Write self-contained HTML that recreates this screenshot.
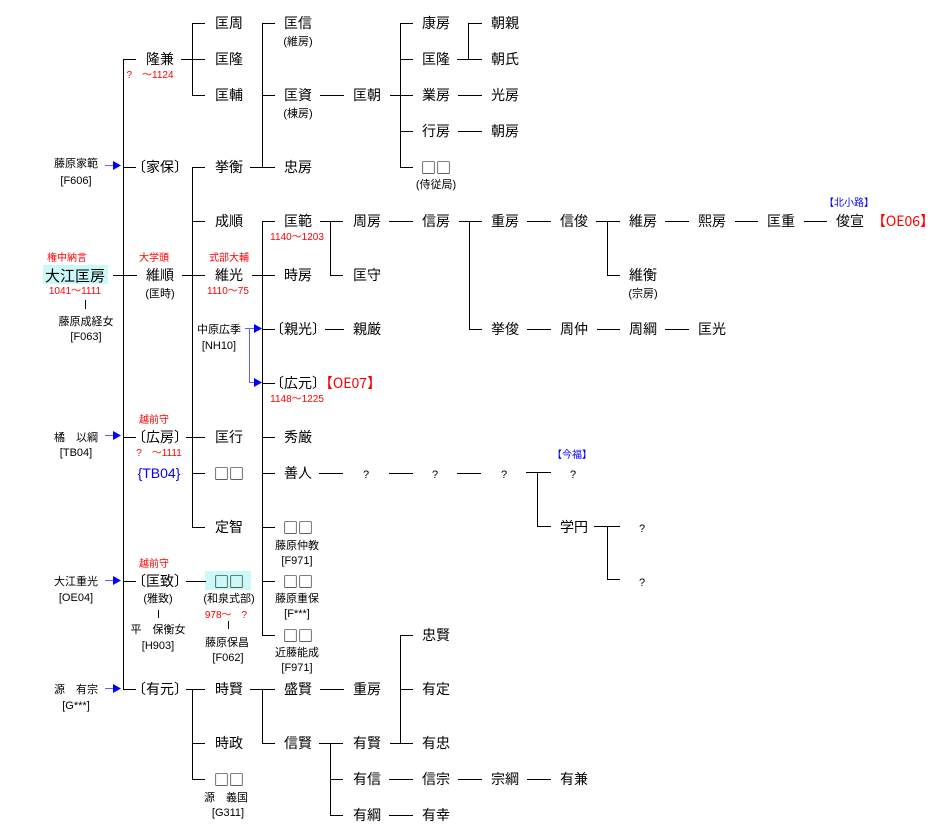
<!DOCTYPE html>
<html><head><meta charset="utf-8"><style>
html,body{margin:0;padding:0;background:#fff;}
svg{display:block;}
text{font-family:"Liberation Sans","Noto Sans CJK JP",sans-serif;text-anchor:middle;fill:#000;}
.n{font-size:14px;}
.s{font-size:11px;}
.r{fill:#ff0000;font-size:10px;}
.b{fill:#0000ff;}
.q{font-family:"Noto Sans CJK JP",sans-serif;font-size:15px;}
line,path{stroke:#000;stroke-width:1;fill:none;shape-rendering:crispEdges;}
.bl{stroke:#6060ff;}
</style></head><body>
<svg width="945" height="840" viewBox="0 0 945 840" xmlns="http://www.w3.org/2000/svg">
<rect x="43" y="265" width="65" height="19" fill="#ccf8f8"/>
<rect x="205" y="571" width="46" height="19" fill="#ccf8f8"/>

<g>
<line x1="123.5" y1="59.5" x2="123.5" y2="689.5"/>
<line x1="123" y1="59.5" x2="136" y2="59.5"/>
<line x1="123" y1="167.5" x2="136" y2="167.5"/>
<line x1="113" y1="275.5" x2="137" y2="275.5"/>
<line x1="123" y1="437.5" x2="136" y2="437.5"/>
<line x1="123" y1="581.5" x2="136" y2="581.5"/>
<line x1="123" y1="689.5" x2="136" y2="689.5"/>
<line x1="181" y1="59.5" x2="205" y2="59.5"/>
<path d="M205 23.5H192.5V95.5H205"/>
<path d="M205 167.5H192.5V527.5H205"/>
<line x1="192" y1="221.5" x2="205" y2="221.5"/>
<line x1="182" y1="275.5" x2="205" y2="275.5"/>
<line x1="186" y1="437.5" x2="205" y2="437.5"/>
<line x1="192" y1="473.5" x2="205" y2="473.5"/>
<line x1="186" y1="581.5" x2="206" y2="581.5"/>
<line x1="186" y1="689.5" x2="205" y2="689.5"/>
<path d="M192.5 689.5V779.5H205"/>
<line x1="192" y1="743.5" x2="205" y2="743.5"/>
<line x1="250" y1="167.5" x2="275" y2="167.5"/>
<path d="M275 23.5H262.5V167.5"/>
<line x1="262" y1="95.5" x2="275" y2="95.5"/>
<path d="M275 221.5H262.5V635.5H275"/>
<line x1="252" y1="275.5" x2="275" y2="275.5"/>
<line x1="262" y1="329.5" x2="275" y2="329.5"/>
<line x1="262" y1="383.5" x2="275" y2="383.5"/>
<line x1="262" y1="437.5" x2="275" y2="437.5"/>
<line x1="262" y1="473.5" x2="275" y2="473.5"/>
<line x1="262" y1="527.5" x2="275" y2="527.5"/>
<line x1="262" y1="581.5" x2="275" y2="581.5"/>
<line x1="250" y1="689.5" x2="275" y2="689.5"/>
<path d="M262.5 689.5V743.5H275"/>
<line x1="320" y1="95.5" x2="344" y2="95.5"/>
<path d="M320 221.5H343M330.5 221.5V275.5H343"/>
<line x1="325" y1="329.5" x2="344" y2="329.5"/>
<line x1="319" y1="473.5" x2="343" y2="473.5"/>
<line x1="320" y1="689.5" x2="344" y2="689.5"/>
<path d="M319 743.5H343M330.5 743.5V815.5H343"/>
<line x1="330" y1="779.5" x2="343" y2="779.5"/>
<path d="M413 23.5H400.5V167.5H413"/>
<line x1="390" y1="95.5" x2="413" y2="95.5"/>
<line x1="400" y1="59.5" x2="413" y2="59.5"/>
<line x1="400" y1="131.5" x2="413" y2="131.5"/>
<line x1="389" y1="221.5" x2="413" y2="221.5"/>
<line x1="389" y1="473.5" x2="413" y2="473.5"/>
<path d="M413 635.5H400.5V743.5H413"/>
<line x1="390" y1="743.5" x2="400" y2="743.5"/>
<line x1="400" y1="689.5" x2="413" y2="689.5"/>
<line x1="389" y1="779.5" x2="413" y2="779.5"/>
<line x1="389" y1="815.5" x2="413" y2="815.5"/>
<path d="M457 59.5H482M468.5 59.5V23.5H482"/>
<line x1="458" y1="95.5" x2="482" y2="95.5"/>
<line x1="458" y1="131.5" x2="482" y2="131.5"/>
<path d="M459 221.5H482M469.5 221.5V329.5H482"/>
<line x1="457" y1="473.5" x2="481" y2="473.5"/>
<line x1="458" y1="779.5" x2="482" y2="779.5"/>
<line x1="527" y1="221.5" x2="551" y2="221.5"/>
<line x1="527" y1="329.5" x2="551" y2="329.5"/>
<path d="M526 472.5H551M537.5 472.5V526.5H551"/>
<line x1="527" y1="779.5" x2="551" y2="779.5"/>
<path d="M596 221.5H620M607.5 221.5V275.5H620"/>
<line x1="597" y1="329.5" x2="620" y2="329.5"/>
<path d="M594 526.5H620M607.5 526.5V579.5H620"/>
<line x1="665" y1="221.5" x2="689" y2="221.5"/>
<line x1="665" y1="329.5" x2="689" y2="329.5"/>
<line x1="735" y1="221.5" x2="758" y2="221.5"/>
<line x1="804" y1="221.5" x2="827" y2="221.5"/>
<line x1="85.5" y1="300" x2="85.5" y2="309" stroke="#888"/>
<line x1="158.5" y1="610" x2="158.5" y2="618" stroke="#888"/>
<line x1="228.5" y1="621" x2="228.5" y2="629" stroke="#888"/>
</g>

<g>
<line class="bl" x1="105" y1="165.5" x2="114" y2="165.5"/><polygon points="113,161 121,165.5 113,170" fill="#0000ff"/>
<line class="bl" x1="105" y1="435.5" x2="114" y2="435.5"/><polygon points="113,431 121,435.5 113,440" fill="#0000ff"/>
<line class="bl" x1="105" y1="580.5" x2="114" y2="580.5"/><polygon points="113,576 121,580.5 113,585" fill="#0000ff"/>
<line class="bl" x1="105" y1="688.5" x2="114" y2="688.5"/><polygon points="113,684 121,688.5 113,693" fill="#0000ff"/>
<path class="bl" d="M245 328.5H255M249.5 328.5V382.5H255"/>
<polygon points="254,324 262,328.5 254,333" fill="#0000ff"/>
<polygon points="254,378 262,382.5 254,387" fill="#0000ff"/>
</g>

<text class="s" x="76" y="167">藤原家範</text>
<text class="s" x="76" y="184">[F606]</text>
<text class="r" x="67" y="261">権中納言</text>
<text class="n" x="75" y="281" style="font-size:15px">大江匡房</text>
<text class="r" x="75" y="294">1041～1111</text>
<text class="s" x="86" y="325">藤原成経女</text>
<text class="s" x="86" y="340">[F063]</text>
<text class="s" x="76" y="441">橘　以綱</text>
<text class="s" x="76" y="456">[TB04]</text>
<text class="s" x="76" y="585">大江重光</text>
<text class="s" x="76" y="601">[OE04]</text>
<text class="s" x="76" y="693">源　有宗</text>
<text class="s" x="76" y="709">[G***]</text>

<text class="n" x="160" y="64">隆兼</text>
<text class="r" x="150" y="78">?　～1124</text>
<text class="n" x="160" y="172">〔家保〕</text>
<text class="r" x="154" y="261">大学頭</text>
<text class="n" x="160" y="280">維順</text>
<text class="s" x="160" y="297">(匡時)</text>
<text class="r" x="154" y="423">越前守</text>
<text class="n" x="160" y="442">〔広房〕</text>
<text class="r" x="159" y="456">?　～1111</text>
<text class="n b" x="159" y="478">{TB04}</text>
<text class="r" x="154" y="567">越前守</text>
<text class="n" x="160" y="586">〔匡致〕</text>
<text class="s" x="158" y="602">(雅致)</text>
<text class="s" x="158" y="633">平　保衡女</text>
<text class="s" x="158" y="649">[H903]</text>
<text class="n" x="160" y="694">〔有元〕</text>

<text class="n" x="229" y="28">匡周</text>
<text class="n" x="229" y="64">匡隆</text>
<text class="n" x="229" y="100">匡輔</text>
<text class="n" x="229" y="172">挙衡</text>
<text class="n" x="229" y="226">成順</text>
<text class="r" x="229" y="261">式部大輔</text>
<text class="n" x="229" y="280">維光</text>
<text class="r" x="228" y="294">1110～75</text>
<text class="s" x="219" y="333">中原広季</text>
<text class="s" x="219" y="349">[NH10]</text>
<text class="n" x="229" y="442">匡行</text>
<text class="q" x="229" y="479">□□</text>
<text class="n" x="229" y="532">定智</text>
<text class="q" x="229" y="587">□□</text>
<text class="s" x="229" y="602">(和泉式部)</text>
<text class="r" x="226" y="618">978～　?</text>
<text class="s" x="227" y="646">藤原保昌</text>
<text class="s" x="228" y="661">[F062]</text>
<text class="n" x="229" y="694">時賢</text>
<text class="n" x="229" y="748">時政</text>
<text class="q" x="229" y="785">□□</text>
<text class="s" x="226" y="801">源　義国</text>
<text class="s" x="228" y="816">[G311]</text>

<text class="n" x="298" y="28">匡信</text>
<text class="s" x="298" y="45">(維房)</text>
<text class="n" x="298" y="100">匡資</text>
<text class="s" x="298" y="117">(棟房)</text>
<text class="n" x="298" y="172">忠房</text>
<text class="n" x="298" y="226">匡範</text>
<text class="r" x="297" y="240">1140～1203</text>
<text class="n" x="298" y="280">時房</text>
<text class="n" x="298" y="334">〔親光〕</text>
<text class="n" x="298" y="388">〔広元〕</text>
<text class="n" x="350" y="388" style="fill:#ff0000;font-family:'Noto Sans CJK JP',sans-serif">【OE07】</text>
<text class="r" x="297" y="402">1148～1225</text>
<text class="n" x="298" y="442">秀厳</text>
<text class="n" x="298" y="478">善人</text>
<text class="q" x="298" y="533">□□</text>
<text class="s" x="297" y="549">藤原仲教</text>
<text class="s" x="297" y="564">[F971]</text>
<text class="q" x="298" y="587">□□</text>
<text class="s" x="297" y="602">藤原重保</text>
<text class="s" x="297" y="617">[F***]</text>
<text class="q" x="298" y="641">□□</text>
<text class="s" x="297" y="656">近藤能成</text>
<text class="s" x="297" y="671">[F971]</text>
<text class="n" x="298" y="694">盛賢</text>
<text class="n" x="298" y="748">信賢</text>

<text class="n" x="367" y="100">匡朝</text>
<text class="n" x="367" y="226">周房</text>
<text class="n" x="367" y="280">匡守</text>
<text class="n" x="367" y="334">親厳</text>
<text class="s" x="366" y="478">?</text>
<text class="n" x="367" y="694">重房</text>
<text class="n" x="367" y="748">有賢</text>
<text class="n" x="367" y="784">有信</text>
<text class="n" x="367" y="820">有綱</text>

<text class="n" x="436" y="28">康房</text>
<text class="n" x="436" y="64">匡隆</text>
<text class="n" x="436" y="100">業房</text>
<text class="n" x="436" y="136">行房</text>
<text class="q" x="436" y="173">□□</text>
<text class="s" x="436" y="188">(侍従局)</text>
<text class="n" x="436" y="226">信房</text>
<text class="s" x="435" y="478">?</text>
<text class="n" x="436" y="640">忠賢</text>
<text class="n" x="436" y="694">有定</text>
<text class="n" x="436" y="748">有忠</text>
<text class="n" x="436" y="784">信宗</text>
<text class="n" x="436" y="820">有幸</text>

<text class="n" x="505" y="28">朝親</text>
<text class="n" x="505" y="64">朝氏</text>
<text class="n" x="505" y="100">光房</text>
<text class="n" x="505" y="136">朝房</text>
<text class="n" x="505" y="226">重房</text>
<text class="n" x="505" y="334">挙俊</text>
<text class="s" x="504" y="478">?</text>
<text class="n" x="505" y="784">宗綱</text>

<text class="n" x="574" y="226">信俊</text>
<text class="n" x="574" y="334">周仲</text>
<text class="r b" x="572" y="458">【今福】</text>
<text class="s" x="573" y="478">?</text>
<text class="n" x="574" y="532">学円</text>
<text class="n" x="574" y="784">有兼</text>

<text class="n" x="643" y="226">維房</text>
<text class="n" x="643" y="280">維衡</text>
<text class="s" x="643" y="297">(宗房)</text>
<text class="n" x="643" y="334">周綱</text>
<text class="s" x="642" y="532">?</text>
<text class="s" x="642" y="586">?</text>

<text class="n" x="712" y="226">熙房</text>
<text class="n" x="712" y="334">匡光</text>
<text class="n" x="781" y="226">匡重</text>
<text class="n" x="850" y="226">俊宣</text>
<text class="r b" x="849" y="206">【北小路】</text>
<text class="n" x="903" y="226" style="fill:#ff0000;font-family:'Noto Sans CJK JP',sans-serif">【OE06】</text>
</svg>
</body></html>
